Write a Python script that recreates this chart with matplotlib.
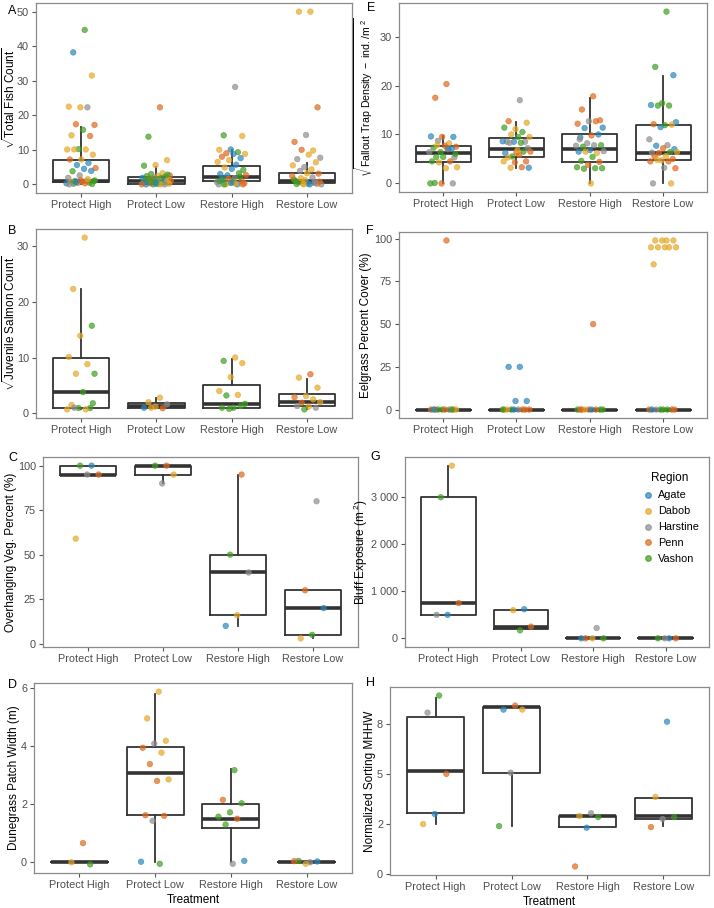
import matplotlib.pyplot as plt
from matplotlib.lines import Line2D
import numpy as np

plt.rcParams['font.family'] = ['Liberation Sans', 'DejaVu Sans']
plt.rcParams['mathtext.fontset'] = 'custom'
plt.rcParams['mathtext.rm'] = 'Liberation Sans'
plt.rcParams['mathtext.it'] = 'Liberation Sans:italic'

treatments = ['Protect High', 'Protect Low', 'Restore High', 'Restore Low']
region_names = ['Agate', 'Dabob', 'Harstine', 'Penn', 'Vashon']
region_codes = ['A', 'D', 'H', 'P', 'V']
region_colors = ['#2B86BA', '#E5A726', '#8E8E8E', '#E0691E', '#3F9E22']

# A: sqrt total fish count
fish_vals = [
    [44.7, 38.2, 31.5, 22.3, 22.5, 22.3, 17.4, 17.2, 15.8, 14.2, 14.0, 10.2, 10.1, 10.1, 10.1,
     8.6, 7.2, 7.2, 6.2, 5.6, 4.7, 4.5, 3.8, 3.9, 2.6, 1.9, 1.0, 1.0, 1.0, 0.8, 0.8, 0.5, 0.5,
     0.3, 0.3, 0.2, 0.1, 1.2, 0.0, 1.5, 0.6, 1.1],
    [22.3, 13.8, 7.0, 5.6, 5.4, 3.2, 3.0, 2.6, 2.5, 2.4, 2.2, 2.0, 1.9, 1.8, 1.7, 1.5, 1.4, 1.2,
     1.1, 1.0, 1.0, 0.9, 0.8, 0.7, 0.6, 0.5, 0.4, 0.3, 0.2, 0.1, 0.0, 0.0, 0.0, 0.0, 0.0, 1.6,
     2.8, 0.3],
    [28.2, 14.2, 14.0, 10.1, 10.0, 9.3, 9.0, 8.8, 8.8, 8.0, 7.6, 7.0, 6.5, 5.7, 4.9, 4.2, 4.5,
     3.0, 3.2, 2.6, 2.7, 1.8, 1.5, 1.0, 0.5, 0.0, 0.0, 0.0, 0.3, 0.8, 1.2, 2.2, 1.6, 0.7, 0.2,
     0.0, 0.0, 0.4, 1.0],
    [50.0, 50.0, 22.3, 14.3, 12.3, 9.8, 10.0, 7.7, 8.6, 7.3, 6.4, 5.0, 5.5, 4.3, 3.9, 3.1, 3.2,
     1.0, 0.5, 0.3, 0.0, 0.0, 0.6, 0.2, 1.2, 1.4, 2.0, 1.8, 0.8, 0.2, 0.1, 0.6, 0.0, 2.4],
]
fish_regs = [
    'VADDDHPPVDPVDDDDDPAAPAVAHHHAVPDVPAPVVPHDAV',
    'PVDDVDVPDVVHAVPDVVAVPHVDVAVPDVAHVPDVVA',
    'HVDADVPDAPADDADVAAVAPHVPDHADPVAVPHDVPAV',
    'DDPHPDPHDHDHDDHPDVADHAVPDVHDPAVHDP',
]
fish_q1 = [0.8, 0.0, 1.0, 0.5]
fish_med = [1.1, 1.0, 2.0, 0.9]
fish_q3 = [7.1, 2.1, 5.3, 3.2]
fish_lo = [0.0, 0.0, 0.0, 0.0]
fish_hi = [16.5, 5.0, 10.0, 6.2]

# B: sqrt juvenile salmon count
salmon_vals = [
    [31.5, 22.3, 15.7, 13.9, 10.1, 8.8, 7.1, 7.1, 3.8, 1.5, 0.95, 0.95, 0.7, 0.7, 1.0, 1.8],
    [2.8, 2.0, 1.6, 1.2, 1.0, 0.9, 1.0],
    [10.0, 9.4, 9.0, 6.5, 4.0, 3.3, 3.2, 1.7, 1.0, 1.0, 1.3, 0.8],
    [7.0, 6.4, 4.6, 3.1, 2.9, 2.5, 1.9, 2.0, 1.2, 1.3, 1.0, 0.7],
]
salmon_regs = ['DDVDDDDVVDVVDDHV', 'DDHDAPD', 'DVDDDDVVVVVV', 'PDDDPDPDDHHV']
salmon_q1 = [0.9, 0.9, 1.0, 1.3]
salmon_med = [3.8, 1.3, 1.7, 2.1]
salmon_q3 = [10.0, 1.8, 5.0, 3.4]
salmon_lo = [0.7, 0.9, 0.8, 0.7]
salmon_hi = [22.3, 2.7, 9.8, 6.2]

# C: overhanging vegetation percent
veg_vals = [[100, 100, 95, 95, 59], [100, 100, 95, 90], [95, 50, 40, 16, 10], [80, 30, 20, 5, 3]]
veg_regs = ['AVPHD', 'PVDH', 'PVHDA', 'HPAVD']
veg_q1 = [95, 95, 16, 5]
veg_med = [95, 100, 40, 20]
veg_q3 = [100, 100, 50, 30]
veg_lo = [95, 90, 10, 3]
veg_hi = [100, 100, 95, 30]

# D: dunegrass patch width
dune_vals = [
    [0.66, 0.0, -0.07],
    [5.87, 4.95, 4.18, 4.08, 3.94, 3.77, 3.38, 2.85, 2.80, 1.62, 1.60, 1.43, 0.02, -0.05],
    [3.17, 2.15, 2.03, 1.72, 1.57, 1.50, 1.30, 0.05, -0.05],
    [0.0, 0.05, 0.03, -0.05, 0.04],
]
dune_regs = ['PDV', 'DDDHPDPDPPPHAV', 'VPVVVPVAH', 'HVADP']
dune_q1 = [0, 1.63, 1.19, 0]
dune_med = [0, 3.08, 1.49, 0]
dune_q3 = [0, 3.98, 2.0, 0]
dune_lo = [0, 0, 0, 0]
dune_hi = [0, 5.8, 3.2, 0]

# E: sqrt fallout trap density
trap_vals = [
    [20.3, 17.5, 9.5, 9.5, 9.6, 8.2, 8.7, 7.5, 7.7, 7.3, 7.1, 6.4, 6.4, 7.0, 5.4, 5.3, 5.4, 4.5,
     4.5, 4.3, 3.3, 3.1, 0.1, 0.0, 0.0, 0.0, 7.0, 7.8, 6.0],
    [17.0, 12.7, 12.4, 11.1, 11.4, 10.5, 10.0, 9.5, 9.5, 8.5, 8.5, 8.5, 8.6, 8.3, 8.3, 7.2, 6.3,
     6.2, 6.5, 5.5, 6.5, 5.8, 5.3, 4.5, 4.3, 4.5, 3.3, 3.2, 3.2, 6.8],
    [17.8, 15.1, 12.9, 12.7, 12.2, 12.7, 11.3, 11.4, 9.8, 9.4, 10.0, 8.2, 7.7, 7.8, 7.5, 7.8,
     6.8, 6.5, 6.2, 6.5, 6.6, 5.4, 4.6, 4.4, 3.8, 3.3, 3.1, 3.0, 3.1, 0.0, 9.0],
    [35.1, 23.8, 22.1, 16.4, 16.0, 15.9, 15.9, 12.5, 11.9, 12.1, 12.0, 11.5, 9.0, 7.8, 7.7, 7.0,
     7.2, 6.3, 6.4, 6.2, 6.4, 5.6, 5.5, 5.0, 4.7, 4.5, 4.5, 4.8, 3.1, 3.2, 0.0, 0.0],
]
trap_regs = [
    'PPAPADHPPVAVHPVHVVPDDDVHPVADV',
    'HPDDVVDDVHHAAVHHPAVVPPDPPDPDAD',
    'PPPHPPAAPAAHHHVVAADDHVVPPVVVVDH',
    'VVAVAVVAVPDAHHAAPHVPDDPPDPPDPHHD',
]
trap_q1 = [4.4, 5.4, 4.4, 4.8]
trap_med = [6.2, 7.0, 7.1, 6.3]
trap_q3 = [7.7, 9.3, 10.0, 12.0]
trap_lo = [0.0, 3.1, 0.0, 0.0]
trap_hi = [9.6, 12.6, 17.5, 22.0]

# F: eelgrass percent cover
eel_vals = [
    [99, 0, 0, 0, 0, 0, 0, 0, 0, 0, 0],
    [25, 25, 5, 5, 0, 0, 0, 0, 0, 0, 0, 0, 0],
    [50, 0, 0, 0, 0, 0, 0, 0, 0, 0],
    [99, 99, 99, 99, 95, 95, 95, 95, 95, 85, 0, 0, 0, 0, 0, 0, 0, 0],
]
eel_regs = ['PPPVPHVDPAV', 'AAAAPPVPHDPAV', 'PPVPVPDVAP', 'DDDDDDDDDDPVPVHPVA']
eel_q1 = [0, 0, 0, 0]
eel_med = [0, 0, 0, 0]
eel_q3 = [0, 0, 0, 0]
eel_lo = [0, 0, 0, 0]
eel_hi = [0, 0, 0, 0]

# G: bluff exposure
bluff_vals = [[3672, 3000, 750, 500, 500], [620, 600, 250, 170], [220, 0, 0, 0, 0], [0, 0, 0, 0]]
bluff_regs = ['DVPAH', 'ADPV', 'HPVDA', 'AVPH']
bluff_q1 = [490, 190, 0, 0]
bluff_med = [757, 252, 0, 0]
bluff_q3 = [3000, 596, 0, 0]
bluff_lo = [490, 190, 0, 0]
bluff_hi = [3672, 596, 0, 0]

# H: normalized sorting MHHW
sort_vals = [[8.9, 8.05, 5.0, 3.0, 2.5], [8.4, 8.2, 8.2, 5.06, 2.4],
             [3.04, 2.9, 2.85, 2.32, 0.39], [7.6, 3.85, 2.85, 2.75, 2.35]]
sort_regs = ['VHPAD', 'PADHV', 'HDVAP', 'ADVHP']
sort_q1 = [3.03, 5.06, 2.37, 2.74]
sort_med = [5.16, 8.32, 2.92, 2.9]
sort_q3 = [7.85, 8.32, 2.92, 3.81]
sort_lo = [2.5, 2.39, 2.37, 2.39]
sort_hi = [8.76, 8.32, 2.92, 3.81]

W, H = 714, 908
fig = plt.figure(figsize=(W / 100, H / 100), dpi=100)


def rect(l, r, t, b):
    return [l / W, 1 - b / H, (r - l) / W, (b - t) / H]


def panel(box, letter, letter_xy, label_x, vals, regs, q1, med, q3, lo, hi, ylabel, yticks,
          yticklabels=None, xlabel=None, ysize=8.5):
    ax = fig.add_axes(rect(*box))
    stats = [dict(q1=q1[i], med=med[i], q3=q3[i], whislo=lo[i], whishi=hi[i], fliers=[])
             for i in range(4)]
    line = dict(color='#333333', linewidth=1.3)
    ax.bxp(stats, positions=range(4), widths=0.75, showfliers=False, showcaps=False,
           boxprops=line, whiskerprops=line,
           medianprops=dict(color='#333333', linewidth=2.6, solid_capstyle='butt'))
    for i in range(4):
        n = len(vals[i])
        offs = (((np.arange(n) + 1) * 0.618034) % 1 - 0.5) * 0.4
        cols = [region_colors[region_codes.index(c)] for c in regs[i]]
        ax.scatter(i + offs, vals[i], s=16, c=cols, alpha=0.7, edgecolors=cols,
                   linewidths=0.5, zorder=3)
    ax.set_xlim(-0.6, 3.6)
    ax.set_xticks(range(4))
    ax.set_xticklabels(treatments)
    ax.set_yticks(yticks)
    if yticklabels is not None:
        ax.set_yticklabels(yticklabels)
    ax.tick_params(labelsize=7.8, labelcolor='#4D4D4D', color='#555555', length=3,
                   width=0.8, pad=2)
    for s in ax.spines.values():
        s.set_color('#8A8A8A')
        s.set_linewidth(0.9)
    ax.set_ylabel(ylabel, fontsize=ysize)
    ax.yaxis.set_label_coords((label_x - box[0]) / (box[1] - box[0]), 0.5)
    if xlabel:
        ax.set_xlabel(xlabel, fontsize=8.5, labelpad=3)
    fig.text(letter_xy[0] / W, 1 - letter_xy[1] / H, letter, fontsize=9,
             ha='left', va='center')
    return ax


panel((36, 352, 3, 193), 'A', (8, 11), 18, fish_vals, fish_regs, fish_q1, fish_med, fish_q3,
      fish_lo, fish_hi, r'$\sqrt{\mathrm{Total\ Fish\ Count}}$', [0, 10, 20, 30, 40, 50])
panel((36, 352, 229, 418), 'B', (8, 231), 18, salmon_vals, salmon_regs, salmon_q1, salmon_med,
      salmon_q3, salmon_lo, salmon_hi, r'$\sqrt{\mathrm{Juvenile\ Salmon\ Count}}$',
      [0, 10, 20, 30])
panel((43, 358, 457, 647), 'C', (8, 458), 17, veg_vals, veg_regs, veg_q1, veg_med, veg_q3,
      veg_lo, veg_hi, 'Overhanging Veg. Percent (%)', [0, 25, 50, 75, 100])
panel((34, 352, 683, 873), 'D', (8, 685), 20, dune_vals, dune_regs, dune_q1, dune_med, dune_q3,
      dune_lo, dune_hi, 'Dunegrass Patch Width (m)', [0, 2, 4, 6], xlabel='Treatment')
panel((399, 707, 3, 192), 'E', (367, 8), 375, trap_vals, trap_regs, trap_q1, trap_med,
      trap_q3, trap_lo, trap_hi,
      r'$\sqrt{\mathrm{Fallout\ Trap\ Density\ -\ ind./m^{\ 2}}}$', [0, 10, 20, 30], ysize=7.6)
panel((399, 707, 232, 418), 'F', (366, 231), 372, eel_vals, eel_regs, eel_q1, eel_med, eel_q3,
      eel_lo, eel_hi, 'Eelgrass Percent Cover (%)', [0, 25, 50, 75, 100])
axg = panel((405, 709, 457, 647), 'G', (370, 457), 370, bluff_vals, bluff_regs, bluff_q1,
            bluff_med, bluff_q3, bluff_lo, bluff_hi, r'Bluff Exposure (m$^{\ 2}$)',
            [0, 1000, 2000, 3000], ['0', '1 000', '2 000', '3 000'])
panel((390, 709, 687, 875), 'H', (366, 683), 376, sort_vals, sort_regs, sort_q1, sort_med,
      sort_q3, sort_lo, sort_hi, 'Normalized Sorting MHHW', [0, 2.5, 5, 7.5],
      ['0', '2', '5', '8'], xlabel='Treatment')

handles = [Line2D([], [], marker='o', linestyle='none', markersize=4, alpha=0.7,
                  markerfacecolor=c, markeredgecolor=c) for c in region_colors]
leg = axg.legend(handles, region_names, title='Region', loc='upper right',
                 bbox_to_anchor=(1.0, 0.97), frameon=False, fontsize=7.8,
                 title_fontsize=8.5, handletextpad=0.4, labelspacing=0.55,
                 handlelength=1.2)

fig.savefig('out.png', dpi=100)
